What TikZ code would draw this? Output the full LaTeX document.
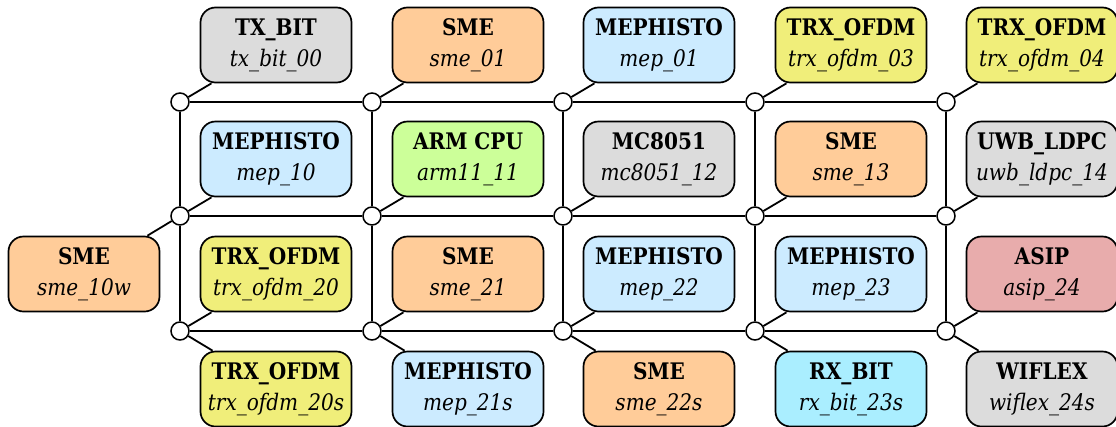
\documentclass[tikz,border=0pt]{standalone}
\usepackage{fontspec}
\setmainfont{DejaVu Serif}[FakeStretch=0.88]
\definecolor{cgray}{RGB}{220,220,220}
\definecolor{corange}{RGB}{255,204,153}
\definecolor{cblue}{RGB}{204,235,255}
\definecolor{cyellow}{RGB}{240,238,122}
\definecolor{cgreen}{RGB}{204,255,153}
\definecolor{cred}{RGB}{232,172,172}
\definecolor{ccyan}{RGB}{170,238,255}
\newcommand\pebox[5]{\node[pebox,fill=#1] (#2) at (#3) {\textbf{#4}\\\textit{#5}};}
\begin{document}
\begin{tikzpicture}[x=1pt,y=-1pt,
  pebox/.style={draw,line width=1.7pt,rounded corners=15pt,minimum width=151pt,minimum height=75pt,
    inner xsep=0pt,inner ysep=0pt,align=center,font=\fontsize{22.8}{31}\selectfont},
  router/.style={circle,draw,fill=white,line width=1.5pt,minimum size=18pt,inner sep=0pt},
  link/.style={line width=1.8pt}]
\useasboundingbox (0,0) rectangle (1116,426);
% routers
\foreach \i/\x in {0/180,1/372,2/563,3/755,4/946}{
  \foreach \j/\y in {0/102,1/216,2/331}{
    \node[router] (c\j\i) at (\x,\y) {};
  }
}
% grid links
\foreach \j in {0,1,2}{
  \foreach \i/\n in {0/1,1/2,2/3,3/4}{
    \draw[link] (c\j\i) -- (c\j\n);
  }
}
\foreach \i in {0,1,2,3,4}{
  \draw[link] (c0\i) -- (c1\i);
  \draw[link] (c1\i) -- (c2\i);
}
% processing elements
\pebox{cgray}{b00}{276,45}{TX\_BIT}{tx\_bit\_00}
\pebox{corange}{b01}{468,45}{SME}{sme\_01}
\pebox{cblue}{b02}{659,45}{MEPHISTO}{mep\_01}
\pebox{cyellow}{b03}{851,45}{TRX\_OFDM}{trx\_ofdm\_03}
\pebox{cyellow}{b04}{1042,45}{TRX\_OFDM}{trx\_ofdm\_04}
\pebox{cblue}{b10}{276,159}{MEPHISTO}{mep\_10}
\pebox{cgreen}{b11}{468,159}{ARM CPU}{arm11\_11}
\pebox{cgray}{b12}{659,159}{MC8051}{mc8051\_12}
\pebox{corange}{b13}{851,159}{SME}{sme\_13}
\pebox{cgray}{b14}{1042,159}{UWB\_LDPC}{uwb\_ldpc\_14}
\pebox{cyellow}{b20}{276,274}{TRX\_OFDM}{trx\_ofdm\_20}
\pebox{corange}{b21}{468,274}{SME}{sme\_21}
\pebox{cblue}{b22}{659,274}{MEPHISTO}{mep\_22}
\pebox{cblue}{b23}{851,274}{MEPHISTO}{mep\_23}
\pebox{cred}{b24}{1042,274}{ASIP}{asip\_24}
\pebox{cyellow}{b30}{276,389}{TRX\_OFDM}{trx\_ofdm\_20s}
\pebox{cblue}{b31}{468,389}{MEPHISTO}{mep\_21s}
\pebox{corange}{b32}{659,389}{SME}{sme\_22s}
\pebox{ccyan}{b33}{851,389}{RX\_BIT}{rx\_bit\_23s}
\pebox{cgray}{b34}{1042,389}{WIFLEX}{wiflex\_24s}
\pebox{corange}{bw}{84,274}{SME}{sme\_10w}
% local links
\foreach \i in {0,1,2,3,4}{
  \draw[link] (c0\i) -- (b0\i);
  \draw[link] (c1\i) -- (b1\i);
  \draw[link] (c2\i) -- (b2\i);
  \draw[link] (c2\i) -- (b3\i);
}
\draw[link] (c10) -- (bw);
\end{tikzpicture}
\end{document}
